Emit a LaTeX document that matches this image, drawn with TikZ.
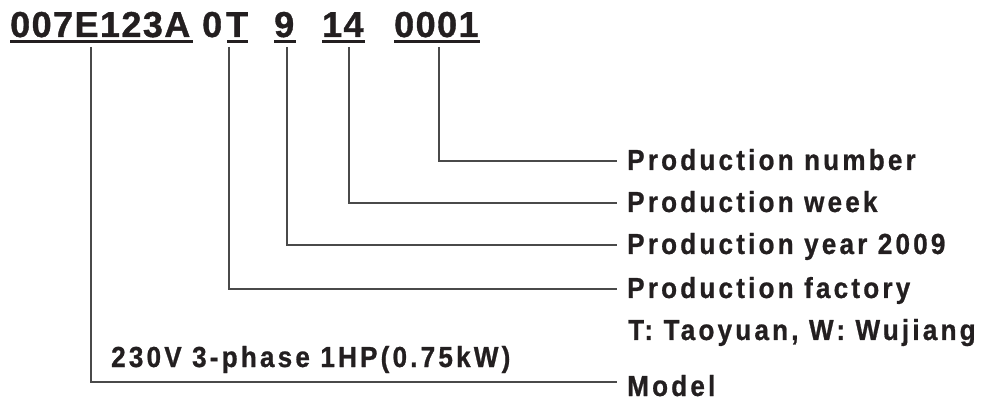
\documentclass[tikz,border=0pt]{standalone}
\usepackage{fontspec}
\setmainfont{Liberation Sans}
\newfontfamily\topfont[LetterSpace=4,FakeBold=1]{Liberation Sans Bold}
\newfontfamily\labfont[LetterSpace=11,FakeStretch=0.9,FakeBold=0.8]{Liberation Sans Bold}
\definecolor{ink}{HTML}{231F20}
\definecolor{wire}{HTML}{4A4A4A}
\tikzset{
  code/.style={inner sep=0pt, anchor=base west, text=ink, font=\topfont\fontsize{36}{42}\selectfont},
  lab/.style={inner sep=0pt, anchor=base west, text=ink, font=\labfont\fontsize{29}{34}\selectfont},
  uline/.style={draw=ink, line width=3pt},
  wireline/.style={draw=wire, line width=1.3pt}
}
\begin{document}
\begin{tikzpicture}[x=1pt,y=-1pt]
\useasboundingbox (0,0) rectangle (991,403);
% code groups
\node[code] (c1) at (10,37) {007E123A};
\node[code] (c2a) at (202,37) {0};
\node[code] (c2) at (226,37) {T};
\node[code] (c3) at (274,37) {9};
\node[code] (c4) at (322,37) {14};
\node[code] (c5) at (394,37) {0001};
% underlines
\draw[uline] (10,41.5) -- (193,41.5);
\draw[uline] (227,41.5) -- (248,41.5);
\draw[uline] (274,41.5) -- (296,41.5);
\draw[uline] (322,41.5) -- (365,41.5);
\draw[uline] (394,41.5) -- (480,41.5);
% labels
\node[lab] (l5) at (627,170) {Production number};
\node[lab] (l4) at (627,212) {Production week};
\node[lab] (l3) at (627,254) {Production year 2009};
\node[lab] (l2) at (627,298) {Production factory};
\node[lab] (l2b) at (628,340) {T: Taoyuan, W: Wujiang};
\node[lab] (l1b) at (111,367) {230V 3-phase 1HP(0.75kW)};
\node[lab] (l1) at (627,396) {Model};
% connector start and end points
\coordinate (s1) at (91,47);
\coordinate (s2) at (229,47);
\coordinate (s3) at (287,47);
\coordinate (s4) at (349,47);
\coordinate (s5) at (439,47);
\coordinate (e1) at (617,382);
\coordinate (e2) at (617,289);
\coordinate (e3) at (617,245);
\coordinate (e4) at (617,203);
\coordinate (e5) at (617,161);
\draw[wireline] (s1) |- (e1);
\draw[wireline] (s2) |- (e2);
\draw[wireline] (s3) |- (e3);
\draw[wireline] (s4) |- (e4);
\draw[wireline] (s5) |- (e5);
\end{tikzpicture}
\end{document}
